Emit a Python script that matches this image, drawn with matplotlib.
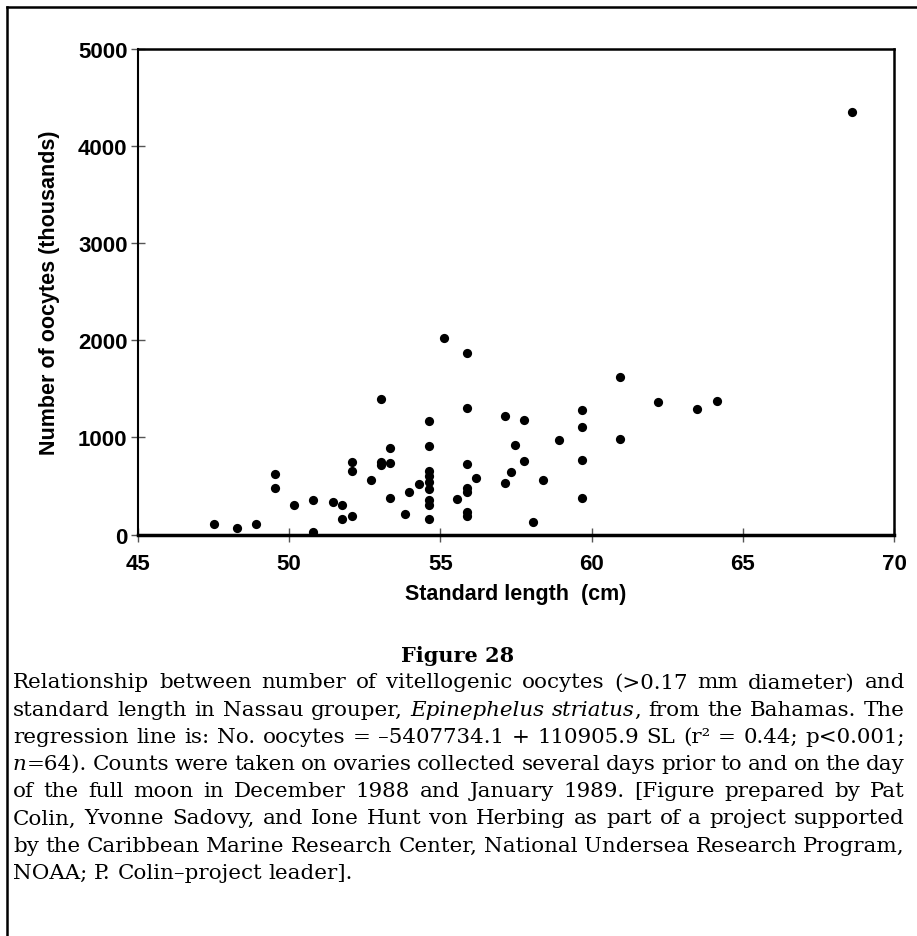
import matplotlib
matplotlib.use("Agg")
import matplotlib.pyplot as plt
from matplotlib.lines import Line2D

# Data: standard length (cm) and number of oocytes (thousands)
standard_length = [
    47.51, 48.26, 48.90, 49.53, 49.53, 50.16, 50.79, 50.79, 51.44, 51.75,
    51.75, 52.07, 52.07, 52.07, 52.70, 53.03, 53.03, 53.03, 53.34, 53.34,
    53.34, 53.83, 53.97, 54.29, 54.61, 54.61, 54.61, 54.61, 54.61, 54.61,
    54.61, 54.61, 54.61, 55.12, 55.88, 55.88, 55.88, 55.88, 55.88, 55.88,
    55.88, 55.56, 56.19, 57.15, 57.77, 57.46, 57.77, 57.33, 57.15, 58.40,
    58.07, 58.92, 59.68, 59.68, 59.68, 59.68, 60.95, 60.95, 62.21, 63.49,
    64.14, 68.60,
]
oocytes = [
    105, 70, 108, 627, 483, 304, 352, 22, 335, 301,
    160, 750, 651, 191, 562, 1397, 747, 720, 892, 737,
    380, 211, 435, 524, 1173, 910, 658, 606, 544, 469,
    359, 304, 160, 2026, 1871, 1304, 727, 476, 441, 229,
    188, 366, 586, 1225, 1177, 926, 758, 648, 531, 559,
    126, 977, 1287, 1105, 765, 379, 1617, 981, 1369, 1290,
    1379, 4350,
]
x_ticks = [45, 50, 55, 60, 65, 70]
y_ticks = [0, 1000, 2000, 3000, 4000, 5000]

caption_title = "Figure 28"
caption_lines = [
    [[("Relationship", False)], [("between", False)], [("number", False)], [("of", False)],
     [("vitellogenic", False)], [("oocytes", False)], [("(>0.17", False)], [("mm", False)],
     [("diameter)", False)], [("and", False)]],
    [[("standard", False)], [("length", False)], [("in", False)], [("Nassau", False)],
     [("grouper,", False)], [("Epinephelus", True)], [("striatus", True), (",", False)],
     [("from", False)], [("the", False)], [("Bahamas.", False)], [("The", False)]],
    [[("regression", False)], [("line", False)], [("is:", False)], [("No.", False)],
     [("oocytes", False)], [("=", False)], [("–5407734.1", False)], [("+", False)],
     [("110905.9", False)], [("SL", False)], [("(r²", False)], [("=", False)],
     [("0.44;", False)], [("p<0.001;", False)]],
    [[("n", True), ("=64).", False)], [("Counts", False)], [("were", False)], [("taken", False)],
     [("on", False)], [("ovaries", False)], [("collected", False)], [("several", False)],
     [("days", False)], [("prior", False)], [("to", False)], [("and", False)], [("on", False)],
     [("the", False)], [("day", False)]],
    [[("of", False)], [("the", False)], [("full", False)], [("moon", False)], [("in", False)],
     [("December", False)], [("1988", False)], [("and", False)], [("January", False)],
     [("1989.", False)], [("[Figure", False)], [("prepared", False)], [("by", False)],
     [("Pat", False)]],
    [[("Colin,", False)], [("Yvonne", False)], [("Sadovy,", False)], [("and", False)],
     [("Ione", False)], [("Hunt", False)], [("von", False)], [("Herbing", False)], [("as", False)],
     [("part", False)], [("of", False)], [("a", False)], [("project", False)], [("supported", False)]],
    [[("by", False)], [("the", False)], [("Caribbean", False)], [("Marine", False)],
     [("Research", False)], [("Center,", False)], [("National", False)], [("Undersea", False)],
     [("Research", False)], [("Program,", False)]],
    [[("NOAA;", False)], [("P.", False)], [("Colin–project", False)], [("leader].", False)]],
]

W, H = 917, 937
fig = plt.figure(figsize=(W / 100, H / 100), dpi=100)
fig.patch.set_facecolor("white")

ax = fig.add_axes([138 / W, 1 - 535.5 / H, (894 - 138) / W, (535.5 - 50) / H])
ax.scatter(standard_length, oocytes, s=44, color="black", zorder=3, linewidths=0)
ax.set_xlim(45, 70)
ax.set_ylim(0, 5000)
ax.set_xticks(x_ticks)
ax.set_yticks(y_ticks)

bold_tick = dict(family="Liberation Sans", weight="bold", size=16)
bold_lab = dict(family="Liberation Sans", weight="bold", size=15.5)
ax.set_xticklabels([str(t) for t in x_ticks], **bold_tick)
ax.set_yticklabels([str(t) for t in y_ticks], **bold_tick)
ax.tick_params(axis="both", direction="inout", length=10, width=1.0, color="#555555")
ax.tick_params(axis="y", pad=2.5)
ax.tick_params(axis="x", pad=8)
ax.set_xlabel("Standard length  (cm)", labelpad=7, **bold_lab)
ax.set_ylabel("Number of oocytes (thousands)", labelpad=13, **bold_lab)

for side in ["top", "right"]:
    ax.spines[side].set_linewidth(1.8)
ax.spines["left"].set_linewidth(1.5)
ax.spines["bottom"].set_linewidth(2.5)
for sp in ax.spines.values():
    sp.set_color("black")

# Border of the figure box (top and left edges)
fig.add_artist(Line2D([7 / W, 1.0], [1 - 8 / H, 1 - 8 / H], transform=fig.transFigure,
                      color="black", linewidth=1.8))
fig.add_artist(Line2D([7 / W, 7 / W], [1 - 8 / H, 0.0], transform=fig.transFigure,
                      color="black", linewidth=1.8))

serif = "DejaVu Serif"
fsize = 15.4
fig.text(458 / W, 1 - 656 / H, caption_title, ha="center", va="center",
         family=serif, weight="bold", size=15)

renderer = fig.canvas.get_renderer()
left_px, right_px = 13, 905
line_y0, line_dy = 683, 27.2


def run_width(txt, it):
    t = fig.text(0, 0, txt, family=serif, size=fsize, style="italic" if it else "normal")
    w = t.get_window_extent(renderer).width
    t.remove()
    return w


def word_width(word):
    return sum(run_width(txt, it) for txt, it in word)


space_w = run_width("a a", False) - run_width("aa", False)

for i, words in enumerate(caption_lines):
    y = 1 - (line_y0 + i * line_dy) / H
    widths = [word_width(w) for w in words]
    last = i == len(caption_lines) - 1
    if last or len(words) < 2:
        gap = space_w
    else:
        gap = (right_px - left_px - sum(widths)) / (len(words) - 1)
    x = left_px
    for w, ww in zip(words, widths):
        xx = x
        for txt, it in w:
            fig.text(xx / W, y, txt, family=serif, size=fsize, va="center", ha="left",
                     style="italic" if it else "normal")
            xx += run_width(txt, it)
        x += ww + gap

fig.savefig("out.png", dpi=100, facecolor="white")
